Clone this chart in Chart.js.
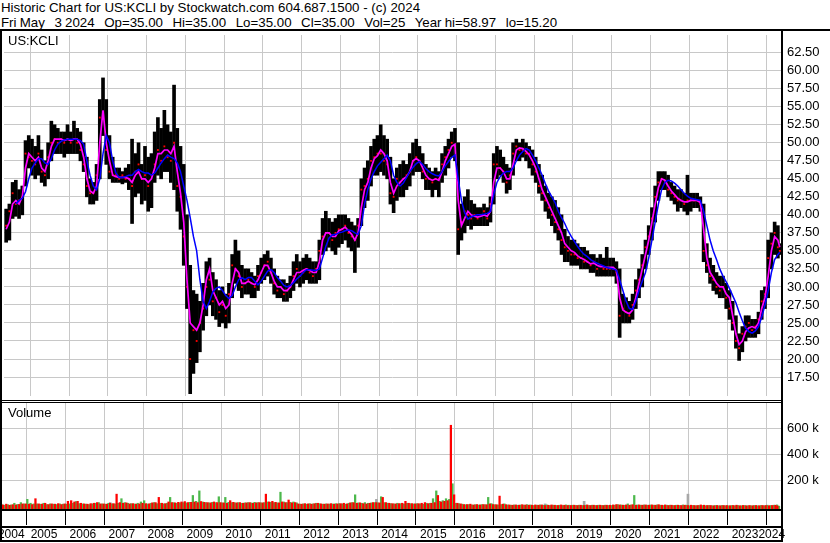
<!DOCTYPE html>
<html>
<head>
<meta charset="utf-8">
<script src="https://cdn.jsdelivr.net/npm/chart.js@4.4.1/dist/chart.umd.min.js"></script>
<style>
  body { margin: 0; background: #fff; width: 830px; height: 543px; overflow: hidden; position: relative;
         font-family: "Liberation Sans", Arial, sans-serif; }
  .t { position: absolute; font-size: 13px; line-height: 15px; white-space: pre; color: #000; }
  .ln { position: absolute; background: #000; }
  canvas { position: absolute; left: 0; }
</style>
</head>
<body>
<div class="t" style="left:1px;top:0;font-size:13.3px">Historic Chart for US:KCLI by Stockwatch.com 604.687.1500 - (c) 2024</div>
<div class="t" style="left:1px;top:15px;font-size:13.3px;word-spacing:-0.5px">Fri May   3 2024   Op=35.00   Hi=35.00   Lo=35.00   Cl=35.00   Vol=25   Year hi=58.97   lo=15.20</div>

<canvas id="price" width="830" height="369" style="top:31px"></canvas>
<canvas id="vol" width="830" height="140" style="top:403px"></canvas>

<div class="t" style="left:8px;top:33px">US:KCLI</div>
<div class="t" style="left:8px;top:405px">Volume</div>

<!-- frame lines -->
<div class="ln" style="left:0;top:29px;width:830px;height:2px"></div>
<div class="ln" style="left:0;top:29px;width:2px;height:513px"></div>
<div class="ln" style="left:781px;top:29px;width:2px;height:513px"></div>
<div class="ln" style="left:0;top:400px;width:783px;height:1px"></div>
<div class="ln" style="left:0;top:402px;width:783px;height:1px"></div>
<div class="ln" style="left:0;top:509px;width:783px;height:2px"></div>
<div class="ln" style="left:0;top:526px;width:783px;height:2px"></div>
<div class="ln" style="left:0;top:540px;width:783px;height:2px"></div>

<script>
// monthly bars, May 2004 .. May 2024
const firstMonth = 2004 + 4 / 12;          // May 2004
const lastDay = 2024 + (4 + 3 / 31) / 12;  // Fri May 3 2024
const xMin = 2004.3196, xMax = 2024.3725;

const years = [2004, 2005, 2006, 2007, 2008, 2009, 2010, 2011, 2012, 2013, 2014,
               2015, 2016, 2017, 2018, 2019, 2020, 2021, 2022, 2023, 2024];
const priceTicks = [17.5, 20, 22.5, 25, 27.5, 30, 32.5, 35, 37.5, 40, 42.5, 45,
                    47.5, 50, 52.5, 55, 57.5, 60, 62.5];
const volTicks = [200, 400, 600];

const lows = [
  36.2, 36.5, 39.5, 39.8, 39.5, 40.0, 44.0, 46.5,                     // 2004
  45.5, 45.0, 45.5, 44.5, 44.0, 45.0, 47.5, 48.5, 48.5, 48.5, 48.0, 48.5, // 2005
  48.5, 48.5, 48.5, 47.5, 46.0, 42.5, 41.5, 41.5, 42.0, 45.0, 51.0, 47.0, // 2006
  45.0, 44.5, 44.5, 44.5, 44.3, 44.5, 43.5, 38.8, 42.5, 43.0, 41.5, 42.0, // 2007
  40.5, 41.0, 44.5, 45.5, 45.0, 46.0, 46.0, 44.5, 43.5, 40.5, 38.0, 33.0, // 2008
  27.0, 15.2, 18.0, 19.5, 21.0, 24.0, 26.0, 27.5, 26.0, 25.5, 24.5, 25.0, // 2009
  24.3, 25.0, 28.5, 30.5, 29.5, 28.5, 29.0, 29.0, 28.5, 28.5, 29.5, 30.5, // 2010
  31.0, 31.5, 30.5, 29.0, 28.5, 28.5, 28.0, 28.0, 28.5, 29.5, 30.5, 30.0, // 2011
  30.5, 31.0, 30.5, 30.5, 30.5, 31.0, 34.5, 35.0, 35.5, 35.0, 34.5, 35.5, // 2012
  36.0, 36.5, 35.5, 35.0, 32.0, 35.5, 38.5, 41.0, 42.0, 44.0, 45.5, 45.5, // 2013
  46.0, 45.5, 45.0, 41.5, 40.3, 42.0, 42.5, 42.5, 43.5, 44.0, 45.5, 46.0, // 2014
  46.0, 45.0, 43.5, 43.5, 42.5, 43.5, 42.5, 44.5, 45.5, 46.5, 48.0, 47.5, // 2015
  34.5, 36.5, 37.5, 38.5, 38.0, 38.5, 38.5, 38.5, 38.5, 38.5, 39.0, 41.5, // 2016
  45.0, 45.5, 44.5, 43.0, 43.5, 45.5, 47.5, 47.5, 48.0, 47.5, 46.5, 45.5, // 2017
  44.5, 43.0, 42.0, 40.5, 39.5, 38.5, 37.5, 36.5, 34.5, 33.5, 33.5, 33.0, // 2018
  33.0, 33.0, 32.5, 32.5, 32.5, 32.0, 32.0, 31.5, 31.5, 31.5, 31.5, 31.5, // 2019
  31.5, 30.5, 23.0, 25.0, 25.0, 25.0, 25.5, 27.0, 28.5, 30.0, 32.5, 34.5, // 2020
  36.5, 39.0, 42.0, 43.5, 43.5, 42.5, 42.0, 41.5, 40.5, 41.0, 40.5, 40.0, // 2021
  40.5, 41.0, 41.0, 40.5, 33.5, 32.0, 30.5, 29.5, 29.0, 28.5, 28.5, 27.0, // 2022
  25.5, 24.0, 21.5, 19.8, 21.0, 22.5, 23.0, 23.0, 23.0, 23.5, 25.5, 27.0, // 2023
  28.5, 32.5, 34.5, 34.0, 34.5                                          // 2024
];
const highs = [
  40.8, 41.5, 44.5, 44.8, 43.5, 44.0, 50.3, 51.0,
  50.5, 49.5, 51.0, 49.0, 47.5, 50.0, 53.0, 52.5, 52.0, 51.5, 51.5, 52.5,
  51.5, 53.0, 52.0, 51.5, 50.0, 48.0, 45.0, 44.5, 47.0, 56.0, 59.0, 56.0,
  51.0, 48.0, 46.5, 46.5, 46.0, 46.5, 47.0, 50.5, 48.5, 50.0, 47.0, 49.5,
  48.0, 48.5, 51.5, 53.5, 52.0, 54.5, 52.5, 51.5, 58.0, 52.0, 49.5, 47.0,
  40.0, 33.0, 29.5, 29.0, 28.0, 30.5, 33.5, 34.0, 32.0, 31.0, 29.5, 30.0,
  29.0, 30.5, 34.5, 36.5, 35.0, 33.0, 32.5, 32.5, 32.0, 31.5, 33.0, 34.0,
  34.5, 35.0, 34.0, 32.5, 31.5, 31.0, 31.0, 30.5, 31.5, 33.5, 34.5, 33.5,
  34.0, 34.5, 34.0, 33.5, 33.5, 36.5, 39.5, 40.5, 39.5, 39.0, 39.5, 40.0,
  40.0, 40.0, 39.5, 39.0, 38.5, 39.5, 45.0, 46.5, 47.5, 49.5, 50.5, 51.0,
  52.5, 51.0, 50.5, 48.0, 45.0, 46.5, 47.0, 47.5, 47.0, 48.5, 50.0, 50.5,
  49.5, 48.5, 47.0, 46.5, 46.0, 46.5, 46.0, 48.5, 49.5, 50.5, 51.5, 52.0,
  50.0, 41.5, 42.5, 43.5, 42.0, 41.5, 41.0, 41.0, 41.5, 41.0, 42.5, 48.5,
  49.5, 49.0, 48.0, 47.0, 46.5, 50.0, 50.5, 50.0, 50.5, 50.0, 49.5, 49.0,
  48.0, 47.0, 45.5, 44.0, 43.0, 42.5, 42.0, 41.0, 40.0, 38.0, 37.0, 36.5,
  36.5, 36.0, 35.5, 35.5, 35.0, 34.5, 34.5, 34.0, 34.5, 34.0, 35.5, 34.0,
  34.0, 33.5, 32.5, 29.0, 28.5, 28.0, 29.0, 31.0, 32.5, 34.5, 36.5, 38.5,
  41.0, 44.0, 46.0, 46.0, 46.0, 45.5, 44.5, 44.0, 43.5, 43.5, 43.0, 45.5,
  43.0, 43.0, 43.0, 42.5, 41.5, 36.0, 34.0, 33.0, 32.0, 31.5, 31.5, 30.5,
  29.5, 28.0, 26.0, 23.5, 24.5, 26.0, 26.0, 25.5, 25.5, 26.5, 29.5, 30.0,
  36.5, 37.5, 39.0, 38.5, 36.0
];
const closes = [
  38.5, 40.5, 43.0, 41.5, 42.0, 42.5, 48.5, 48.0,
  47.5, 47.0, 48.5, 46.0, 45.5, 48.0, 50.0, 50.5, 50.0, 50.5, 50.0, 50.5,
  50.0, 50.5, 50.0, 49.0, 47.0, 44.0, 43.0, 43.0, 45.5, 53.5, 54.0, 49.0,
  46.0, 45.5, 45.5, 45.0, 45.5, 45.0, 45.0, 44.0, 46.0, 47.0, 45.0, 45.5,
  44.0, 45.5, 47.0, 49.0, 47.5, 49.5, 48.0, 47.5, 50.0, 44.0, 42.5, 37.0,
  30.0, 20.0, 24.0, 22.5, 25.0, 27.0, 30.0, 31.0, 28.0, 28.5, 26.5, 27.5,
  26.0, 29.0, 33.0, 32.5, 31.5, 30.0, 30.5, 31.0, 30.5, 30.0, 31.5, 32.0,
  33.0, 33.5, 32.0, 30.5, 29.5, 30.0, 29.0, 29.5, 30.0, 31.5, 32.5, 31.5,
  32.0, 32.5, 32.0, 31.5, 32.5, 35.0, 37.0, 37.5, 37.5, 36.5, 37.5, 38.0,
  38.0, 38.5, 37.5, 37.0, 36.5, 38.5, 43.5, 44.0, 45.0, 47.5, 48.0, 48.5,
  48.5, 47.5, 47.0, 43.0, 42.5, 45.0, 44.5, 45.0, 45.5, 46.0, 47.5, 48.0,
  47.5, 46.0, 45.0, 45.0, 44.5, 45.0, 45.0, 47.0, 48.0, 49.0, 50.0, 49.5,
  38.0, 39.0, 40.5, 40.0, 39.5, 40.0, 39.5, 40.0, 40.5, 39.5, 41.5, 47.0,
  47.0, 46.5, 46.0, 44.5, 45.5, 48.5, 49.5, 49.0, 49.0, 48.5, 48.5, 47.0,
  46.0, 44.0, 43.0, 42.0, 41.0, 40.0, 39.0, 38.0, 36.5, 35.5, 35.0, 34.5,
  34.5, 34.0, 34.0, 33.5, 33.5, 33.0, 33.5, 32.5, 33.0, 32.5, 32.5, 32.5,
  32.5, 32.0, 26.0, 27.0, 26.5, 26.0, 27.5, 29.5, 31.0, 33.0, 35.5, 37.0,
  39.5, 42.5, 44.5, 45.0, 44.5, 43.5, 43.0, 42.5, 42.0, 42.0, 41.5, 42.0,
  42.0, 42.0, 42.0, 41.5, 35.0, 33.0, 31.5, 31.0, 30.0, 29.5, 30.0, 28.5,
  27.0, 25.0, 22.5, 21.5, 23.5, 24.5, 25.0, 24.0, 24.5, 25.5, 28.0, 29.0,
  34.0, 36.0, 37.5, 35.5, 35.0
];
// short moving average (magenta)
const maFast = [
  38.0, 39.0, 41.5, 42.0, 41.5, 42.5, 46.5, 48.5,
  48.0, 47.5, 48.0, 46.5, 46.0, 47.5, 49.5, 50.5, 50.5, 50.5, 50.3, 50.5,
  50.3, 50.5, 50.5, 49.8, 48.0, 45.0, 43.3, 43.0, 44.0, 50.0, 54.5, 50.0,
  47.5, 45.5, 45.3, 45.2, 45.2, 45.2, 45.0, 44.5, 45.5, 46.0, 45.0, 45.0,
  44.5, 45.0, 46.5, 48.5, 48.5, 49.0, 49.0, 48.5, 49.5, 46.0, 43.0, 39.0,
  31.0, 25.0, 24.5, 24.0, 25.0, 27.5, 31.0, 32.5, 29.5, 28.5, 27.5, 28.0,
  27.0, 27.5, 30.5, 32.5, 32.0, 30.5, 30.5, 30.8, 30.5, 30.3, 31.0, 32.0,
  33.0, 33.0, 32.0, 30.8, 30.0, 30.0, 29.5, 29.5, 30.0, 31.0, 32.0, 32.0,
  32.3, 32.5, 32.3, 32.0, 32.0, 33.5, 36.5, 37.5, 37.5, 37.0, 37.0, 37.8,
  38.0, 38.3, 37.8, 37.3, 36.5, 37.5, 41.0, 43.5, 44.5, 46.5, 47.8, 48.2,
  49.0, 48.5, 47.5, 44.5, 43.0, 44.0, 44.5, 45.0, 45.3, 46.0, 47.5, 47.8,
  47.5, 46.5, 45.5, 45.0, 44.8, 45.0, 44.8, 46.0, 47.5, 48.5, 49.5, 49.8,
  42.0, 38.5, 39.5, 40.5, 40.0, 39.8, 39.7, 39.8, 40.0, 39.8, 40.5, 44.5,
  46.5, 46.5, 46.0, 45.0, 45.0, 47.0, 49.0, 49.3, 49.2, 48.8, 48.3, 47.5,
  46.5, 45.0, 43.5, 42.5, 41.5, 40.5, 39.5, 38.5, 37.5, 36.0, 35.5, 35.0,
  34.8, 34.3, 34.0, 33.8, 33.5, 33.2, 33.3, 33.0, 32.8, 32.8, 32.7, 32.7,
  32.7, 32.3, 28.5, 26.8, 26.5, 26.3, 26.8, 28.5, 30.5, 32.5, 34.5, 36.5,
  39.0, 41.5, 43.8, 45.0, 44.8, 44.0, 43.3, 42.8, 42.3, 42.0, 41.8, 41.8,
  42.0, 42.0, 42.0, 41.7, 38.0, 34.0, 32.0, 31.3, 30.5, 30.0, 30.0, 29.0,
  28.5, 26.0, 23.5, 22.0, 22.5, 23.8, 24.3, 24.5, 24.3, 25.0, 27.0, 28.5,
  31.5, 35.0, 37.0, 36.5, 35.5
];
// long moving average (blue)
const maSlow = [
  null, null, null, 41.5, 42.0, 42.3, 43.2, 45.0,
  46.5, 47.2, 47.8, 47.8, 47.2, 47.0, 47.8, 49.0, 49.8, 50.2, 50.4, 50.5,
  50.5, 50.5, 50.5, 50.3, 49.8, 47.5, 45.5, 44.0, 43.5, 45.0, 48.5, 51.0,
  50.0, 47.5, 45.8, 45.2, 45.2, 45.3, 45.5, 45.5, 46.0, 46.3, 46.0, 45.8,
  45.8, 45.5, 45.8, 46.5, 47.2, 47.8, 48.3, 48.0, 47.8, 47.2, 46.0, 44.0,
  42.0, 39.6, 37.0, 35.0, 31.0, 28.0, 27.0, 28.0, 29.3, 29.8, 30.0, 29.5,
  28.8, 28.4, 28.8, 30.0, 31.0, 31.3, 31.0, 31.3, 31.3, 30.8, 30.3, 30.8,
  31.5, 32.2, 32.4, 32.0, 31.3, 30.8, 30.2, 30.0, 30.2, 30.6, 31.1, 31.5,
  32.0, 32.4, 32.4, 32.3, 32.3, 32.5, 34.0, 35.6, 36.8, 37.2, 37.3, 37.5,
  37.6, 37.8, 37.9, 37.8, 37.5, 37.3, 38.5, 41.5, 43.5, 45.0, 46.0, 46.8,
  47.3, 47.8, 48.3, 47.5, 45.5, 44.5, 44.0, 44.4, 45.2, 46.0, 46.6, 47.1,
  47.4, 47.0, 46.4, 46.0, 45.7, 45.5, 45.4, 46.0, 46.8, 47.4, 48.0, 48.3,
  45.0, 42.0, 40.3, 39.4, 39.7, 39.9, 40.0, 40.0, 40.1, 40.2, 40.5, 42.8,
  44.5, 45.3, 45.8, 46.0, 46.0, 46.5, 47.5, 48.3, 48.8, 49.2, 49.0, 48.3,
  47.5, 46.5, 45.5, 44.3, 43.3, 42.5, 41.7, 40.5, 39.6, 38.8, 37.8, 37.0,
  36.3, 35.6, 35.0, 34.5, 34.2, 33.8, 33.5, 33.3, 33.1, 32.9, 32.7, 32.6,
  32.5, 32.3, 31.0, 29.5, 28.0, 27.0, 26.9, 28.0, 29.5, 30.8, 32.0, 34.0,
  36.5, 39.0, 41.5, 43.5, 44.5, 44.8, 44.7, 44.4, 44.0, 43.5, 43.0, 42.6,
  42.3, 42.2, 42.1, 42.0, 40.5, 38.5, 36.5, 35.0, 33.8, 32.5, 31.5, 30.7,
  29.8, 28.8, 27.8, 26.5, 25.3, 24.3, 23.8, 23.6, 23.9, 24.5, 25.8, 27.5,
  29.5, 32.0, 33.8, 34.5, 34.8
];
// volume in thousands: down days (red) / up days (green)
const volDown = [
  15, 12, 18, 10, 14, 12, 16, 20,
  20, 18, 15, 60, 20, 18, 25, 15, 20, 18, 22, 15,
  20, 40, 45, 35, 40, 25, 20, 18, 22, 25, 30, 20,
  20, 18, 25, 22, 95, 30, 25, 28, 20, 22, 18, 20,
  25, 22, 20, 28, 30, 70, 25, 22, 35, 30, 28, 32,
  35, 38, 30, 32, 35, 30, 38, 32, 30, 28, 35, 30,
  30, 28, 25, 45, 32, 28, 30, 25, 28, 30, 25, 28,
  30, 28, 95, 35, 40, 32, 28, 35, 30, 50, 28, 30,
  20, 18, 22, 20, 18, 22, 25, 20, 18, 20, 22, 18,
  20, 22, 25, 20, 28, 30, 25, 28, 22, 20, 25, 30,
  30, 28, 70, 30, 25, 22, 20, 22, 25, 40, 25, 22,
  20, 22, 25, 30, 22, 25, 30, 85, 35, 40, 45, 625,
  90, 25, 20, 15, 15, 18, 12, 15, 12, 15, 14, 20,
  15, 14, 80, 18, 14, 12, 10, 12, 10, 14, 12, 10,
  10, 12, 10, 12, 8, 10, 12, 10, 8, 12, 10, 8,
  8, 10, 8, 10, 8, 12, 8, 10, 8, 10, 8, 10,
  10, 12, 15, 12, 10, 12, 10, 14, 10, 12, 10, 12,
  10, 12, 10, 14, 10, 12, 8, 10, 8, 10, 8, 10,
  8, 10, 8, 8, 12, 10, 8, 8, 6, 8, 6, 8,
  8, 6, 8, 10, 6, 8, 6, 8, 6, 8, 6, 8,
  8, 6, 8, 10, 4
];
const volUp = [
  18, 10, 14, 12, 25, 16, 30, 20,
  55, 25, 20, 20, 18, 25, 15, 20, 18, 15, 20, 18,
  18, 20, 25, 38, 22, 20, 18, 15, 20, 25, 30, 20,
  18, 25, 20, 20, 25, 60, 30, 25, 22, 20, 25, 35,
  45, 20, 25, 30, 22, 25, 20, 25, 70, 30, 25, 28,
  30, 28, 32, 85, 40, 120, 35, 30, 28, 32, 30, 75,
  28, 70, 32, 30, 28, 30, 25, 28, 30, 28, 32, 30,
  28, 30, 35, 32, 30, 28, 110, 35, 30, 32, 35, 28,
  18, 20, 18, 22, 20, 25, 22, 18, 20, 18, 20, 22,
  22, 20, 18, 25, 30, 90, 28, 25, 30, 25, 28, 30,
  28, 75, 30, 25, 22, 20, 25, 22, 20, 25, 22, 20,
  22, 20, 18, 25, 25, 60, 120, 40, 45, 60, 55, 175,
  25, 22, 18, 14, 15, 12, 14, 12, 15, 14, 70, 22,
  14, 12, 15, 20, 12, 10, 12, 10, 12, 10, 14, 12,
  8, 10, 12, 10, 12, 8, 10, 8, 10, 8, 12, 10,
  10, 8, 10, 8, 10, 8, 10, 8, 10, 8, 10, 8,
  8, 10, 14, 12, 10, 20, 12, 85, 12, 10, 12, 10,
  12, 10, 12, 10, 8, 10, 10, 8, 10, 8, 12, 10,
  6, 8, 6, 8, 8, 6, 8, 6, 8, 6, 8, 6,
  6, 8, 6, 8, 6, 8, 6, 6, 8, 6, 8, 6,
  10, 8, 10, 12, 3
];
// unchanged days (grey)
const flatMonths = ['2007-02', '2013-12', '2018-04', '2019-04', '2021-12'];
const volFlat = [30, 55, 20, 40, 95];

const FONT = '"Liberation Sans", Arial, sans-serif';
const GRID = '#c8c8c8';

function monthX(i) {
  return Math.min(firstMonth + (i + 0.5) / 12, lastDay);
}
function ymX(s) {
  const [y, m] = s.split('-').map(Number);
  return y + (m - 0.5) / 12;
}
const pts = arr => arr.map((v, i) => ({ x: monthX(i), y: v }));

function yearAxis(extra) {
  return Object.assign({
    type: 'linear', min: xMin, max: xMax, offset: false,
    afterBuildTicks: s => { s.ticks = years.slice(1).map(v => ({ value: v })); },
    ticks: { display: false },
    border: { display: false },
    grid: { color: GRID, offset: false, drawTicks: false }
  }, extra || {});
}
function rightAxis(min, max, ticks, fmt) {
  return {
    position: 'right', min: min, max: max,
    afterBuildTicks: s => { s.ticks = ticks.map(v => ({ value: v })); },
    afterFit: s => { s.width = 49; s.paddingTop = 0; s.paddingBottom = 0; },
    border: { display: false },
    grid: { color: GRID, drawTicks: false },
    ticks: { padding: 6, color: '#000', font: { family: FONT, size: 13 }, callback: fmt }
  };
}

new Chart(document.getElementById('price'), {
  type: 'bar',
  data: {
    datasets: [
      { type: 'line', data: pts(maSlow), borderColor: '#0000ff', borderWidth: 1.5,
        pointRadius: 0, order: 1 },
      { type: 'line', data: pts(maFast), borderColor: '#ff00ff', borderWidth: 1.7,
        pointRadius: 0, order: 2 },
      { type: 'line', data: pts(closes), showLine: false, pointStyle: 'rect',
        pointRadius: 1.3, pointBackgroundColor: '#ff0000', pointBorderWidth: 0, order: 3 },
      { data: lows.map((v, i) => ({ x: monthX(i), y: [v, highs[i]] })),
        backgroundColor: '#000', barThickness: 3, order: 4 }
    ]
  },
  options: {
    responsive: false,
    animation: false,
    events: [],
    layout: { padding: 0 },
    plugins: { legend: { display: false }, tooltip: { enabled: false } },
    scales: {
      x: yearAxis(),
      y: rightAxis(14.867, 64.954, priceTicks, v => v.toFixed(2))
    }
  }
});

const yearLabels = {
  id: 'yearLabels',
  afterDraw(chart) {
    const x = chart.scales.x, ctx = chart.ctx;
    ctx.save();
    ctx.font = '12px ' + FONT;
    ctx.fillStyle = '#000';
    ctx.textAlign = 'center';
    years.forEach(y => {
      const a = Math.max(y, x.min), b = Math.min(y + 1, x.max);
      ctx.fillText(String(y), (x.getPixelForValue(a) + x.getPixelForValue(b)) / 2 - 2, 135);
    });
    ctx.restore();
  }
};

new Chart(document.getElementById('vol'), {
  type: 'bar',
  data: {
    datasets: [
      { data: pts(volDown), backgroundColor: '#ff0000', barThickness: 1.6, base: -19.2 },
      { data: pts(volUp), backgroundColor: '#4cb84c', barThickness: 1.6, base: -19.2 },
      { data: flatMonths.map((m, i) => ({ x: ymX(m), y: volFlat[i] })), xAxisID: 'x2',
        backgroundColor: '#a8a8a8', barThickness: 2, base: -19.2 }
    ]
  },
  options: {
    responsive: false,
    animation: false,
    events: [],
    layout: { padding: { bottom: 18 } },
    plugins: { legend: { display: false }, tooltip: { enabled: false } },
    scales: {
      x: yearAxis({ grid: { color: GRID, offset: false, drawTicks: true, tickLength: 16,
                            tickColor: '#000' } }),
      x2: { type: 'linear', min: xMin, max: xMax, offset: false, display: false,
            grid: { offset: false } },
      y: rightAxis(-19.2, 796.15, volTicks, v => v + ' k')
    }
  },
  plugins: [yearLabels]
});
</script>
</body>
</html>
